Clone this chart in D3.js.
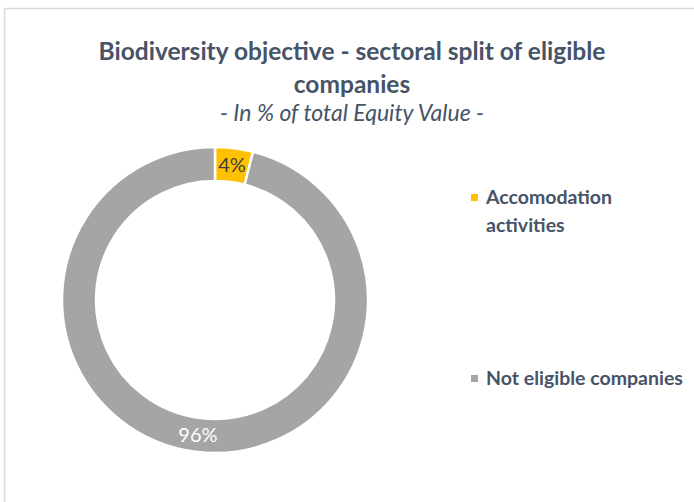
<!DOCTYPE html>
<html>
<head>
<meta charset="utf-8">
<script src="https://cdn.jsdelivr.net/npm/d3@7"></script>
<style>
  body { margin: 0; background: #fff; }
  svg text { font-family: Lato, "Open Sans", sans-serif; }
</style>
</head>
<body>
<div id="chart"></div>
<script>
// data
var categories = ["Accomodation activities", "Not eligible companies"]
var values = [4, 96]
var labels = ["4%", "96%"]
var colors = ["#FFC000", "#A5A5A5"]

var width = 694
    height = 502

var svg = d3.select("#chart")
    .append("svg")
    .attr("width", width)
    .attr("height", height)

// chart area border (runs off the right and bottom)
svg.append("rect")
    .attr("x", 4.5).attr("y", 8.5)
    .attr("width", 720).attr("height", 520)
    .attr("fill", "#fff")
    .attr("stroke", "#D9D9D9")
    .attr("stroke-width", 1.5)

// title
var titleX = 352
var title = svg.append("text")
    .attr("text-anchor", "middle")
    .attr("fill", "#475366")
    .style("font-weight", "bold")
    .style("font-size", "24.5px")
title.append("tspan").attr("x", titleX).attr("y", 60).text("Biodiversity objective - sectoral split of eligible")
title.append("tspan").attr("x", titleX).attr("y", 93).text("companies")

svg.append("text")
    .attr("x", titleX).attr("y", 121)
    .attr("text-anchor", "middle")
    .attr("fill", "#475366")
    .style("font-style", "italic")
    .style("font-size", "23px")
    .text("- In % of total Equity Value -")

// donut
var cx = 215, cy = 300
var outerR = 153, innerR = 119

var pie = d3.pie()
    .sort(null)
    .value(function(d) { return d.value })

var data_ready = pie(categories.map(function(c, i) {
    return { key: c, value: values[i], label: labels[i], color: colors[i] }
}))

var arc = d3.arc()
    .innerRadius(innerR)
    .outerRadius(outerR)

var g = svg.append("g")
    .attr("transform", "translate(" + cx + "," + cy + ")")

g.selectAll("allSlices")
    .data(data_ready)
    .enter()
    .append("path")
    .attr("d", arc)
    .attr("fill", function(d) { return d.data.color })
    .attr("stroke", "white")
    .style("stroke-width", "2.5px")

g.selectAll("allLabels")
    .data(data_ready)
    .enter()
    .append("text")
    .attr("transform", function(d) { return "translate(" + arc.centroid(d) + ")" })
    .attr("text-anchor", "middle")
    .attr("dy", "0.35em")
    .attr("fill", function(d, i) { return i == 0 ? "#404040" : "#ffffff" })
    .style("font-size", "20px")
    .text(function(d) { return d.data.label })

// legend
var legendY = [197, 378]
var legendLines = [["Accomodation", "activities"], ["Not eligible companies"]]

var legend = svg.selectAll("legendItems")
    .data(data_ready)
    .enter()
    .append("g")
    .attr("transform", function(d, i) { return "translate(471," + legendY[i] + ")" })

legend.append("rect")
    .attr("x", 0).attr("y", -3)
    .attr("width", 7).attr("height", 7)
    .attr("fill", function(d) { return d.data.color })

legend.each(function(d, i) {
    var t = d3.select(this).append("text")
        .attr("fill", "#475366")
        .style("font-weight", "bold")
        .style("font-size", "19.5px")
    legendLines[i].forEach(function(line, j) {
        t.append("tspan").attr("x", 15).attr("y", j * 28).attr("dy", "0.35em").text(line)
    })
})
</script>
</body>
</html>
